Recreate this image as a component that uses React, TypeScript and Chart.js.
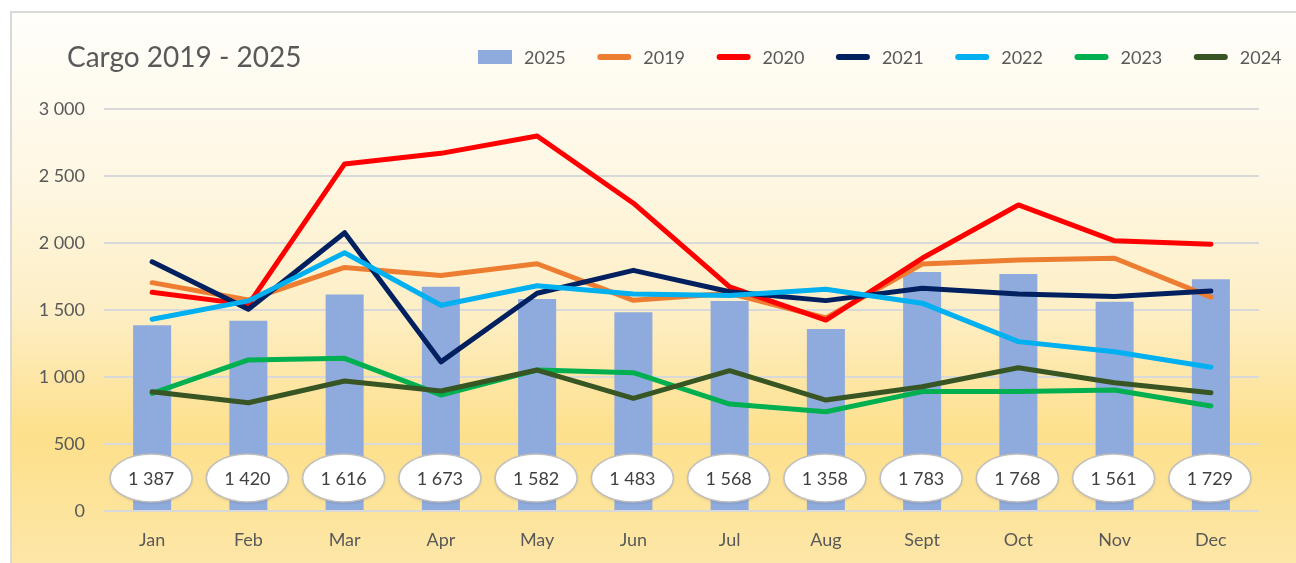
import React, { useEffect, useRef } from 'react';
import { Chart, registerables } from 'chart.js';

Chart.register(...registerables);

const months = ['Jan', 'Feb', 'Mar', 'Apr', 'May', 'Jun', 'Jul', 'Aug', 'Sept', 'Oct', 'Nov', 'Dec'];
const cargo2025 = [1387, 1420, 1616, 1673, 1582, 1483, 1568, 1358, 1783, 1768, 1561, 1729];
const cargo2019 = [1704, 1575, 1818, 1758, 1845, 1572, 1625, 1440, 1843, 1873, 1886, 1596];
const cargo2020 = [1632, 1540, 2590, 2669, 2799, 2297, 1672, 1425, 1886, 2284, 2016, 1990];
const cargo2021 = [1860, 1505, 2077, 1113, 1625, 1796, 1636, 1570, 1662, 1619, 1600, 1642];
const cargo2022 = [1431, 1568, 1927, 1535, 1681, 1619, 1609, 1655, 1551, 1264, 1189, 1073];
const cargo2023 = [878, 1127, 1139, 866, 1052, 1032, 798, 741, 891, 891, 903, 784];
const cargo2024 = [890, 808, 970, 896, 1052, 841, 1047, 828, 927, 1069, 957, 883];
const yTickValues = [0, 500, 1000, 1500, 2000, 2500, 3000];

const TITLE = 'Cargo 2019 - 2025';
const FONT = 'Lato, "Open Sans", "DejaVu Sans", sans-serif';
const TEXT = '#595959';

const series = [
  { label: '2019', data: cargo2019, color: '#ED7D31' },
  { label: '2020', data: cargo2020, color: '#FF0000' },
  { label: '2021', data: cargo2021, color: '#002060' },
  { label: '2022', data: cargo2022, color: '#00B0F0' },
  { label: '2023', data: cargo2023, color: '#00B050' },
  { label: '2024', data: cargo2024, color: '#375623' },
];
const BAR_COLOR = '#8FAADC';

const fmt = (v: number) => String(Math.round(v)).replace(/\B(?=(\d{3})+(?!\d))/g, ' ');

const backgroundPlugin = {
  id: 'bgFrame',
  beforeDraw(chart: any) {
    const { ctx, width, height } = chart;
    ctx.save();
    ctx.fillStyle = '#FFFFFF';
    ctx.fillRect(0, 0, width, height);
    const g = ctx.createLinearGradient(0, 12, 0, height);
    g.addColorStop(0, '#FFFEFB');
    g.addColorStop(0.3, '#FEF7E3');
    g.addColorStop(0.55, '#FDEEC4');
    g.addColorStop(0.77, '#FDE08B');
    g.addColorStop(1, '#FDE7A8');
    ctx.fillStyle = g;
    ctx.fillRect(11, 12, width - 11, height - 12);
    ctx.strokeStyle = '#D9D9D9';
    ctx.lineWidth = 2;
    ctx.beginPath();
    ctx.moveTo(11, height);
    ctx.lineTo(11, 12);
    ctx.lineTo(width, 12);
    ctx.stroke();
    ctx.restore();
  },
};

const headerPlugin = {
  id: 'header',
  afterDraw(chart: any) {
    const { ctx } = chart;
    ctx.save();
    ctx.fillStyle = TEXT;
    ctx.font = `28px ${FONT}`;
    ctx.textAlign = 'left';
    ctx.textBaseline = 'alphabetic';
    ctx.fillText(TITLE, 67, 67);

    const items = [{ label: '2025', color: BAR_COLOR, bar: true }, ...series.map((s) => ({ label: s.label, color: s.color, bar: false }))];
    ctx.font = `18px ${FONT}`;
    items.forEach((it, i) => {
      const x = 478 + i * 119.3;
      const cy = 57;
      if (it.bar) {
        ctx.fillStyle = it.color;
        ctx.fillRect(x, cy - 7, 34, 14);
      } else {
        ctx.strokeStyle = it.color;
        ctx.lineWidth = 6;
        ctx.lineCap = 'round';
        ctx.beginPath();
        ctx.moveTo(x + 3, cy);
        ctx.lineTo(x + 31, cy);
        ctx.stroke();
      }
      ctx.fillStyle = TEXT;
      ctx.textBaseline = 'middle';
      ctx.fillText(it.label, x + 46, cy + 1);
    });
    ctx.restore();
  },
};

const ellipseLabelPlugin = {
  id: 'ellipseLabels',
  afterDatasetsDraw(chart: any) {
    const { ctx, chartArea } = chart;
    const meta = chart.getDatasetMeta(0);
    ctx.save();
    meta.data.forEach((el: any, i: number) => {
      const cx = el.x - 1;
      const cy = chartArea.bottom - 33;
      ctx.save();
      ctx.shadowColor = 'rgba(0,0,0,0.18)';
      ctx.shadowBlur = 3;
      ctx.shadowOffsetY = 1;
      ctx.beginPath();
      ctx.ellipse(cx, cy, 41, 24, 0, 0, Math.PI * 2);
      ctx.fillStyle = '#FFFFFF';
      ctx.fill();
      ctx.restore();
      ctx.lineWidth = 1.5;
      ctx.strokeStyle = '#BFBFBF';
      ctx.beginPath();
      ctx.ellipse(cx, cy, 41, 24, 0, 0, Math.PI * 2);
      ctx.stroke();
      ctx.fillStyle = '#404040';
      ctx.font = `18px ${FONT}`;
      ctx.textAlign = 'center';
      ctx.textBaseline = 'middle';
      ctx.fillText(fmt(cargo2025[i]), cx, cy + 1);
    });
    ctx.restore();
  },
};

export default function App() {
  const canvasRef = useRef<HTMLCanvasElement | null>(null);

  useEffect(() => {
    document.body.style.margin = '0';
    const canvas = canvasRef.current;
    if (!canvas) return;
    const datasets: any[] = [
      {
        type: 'bar',
        label: '2025',
        data: cargo2025,
        backgroundColor: BAR_COLOR,
        borderWidth: 0,
        barPercentage: 0.395,
        categoryPercentage: 1,
        order: 100,
      },
      ...series.map((s, i) => ({
        type: 'line',
        label: s.label,
        data: s.data,
        borderColor: s.color,
        backgroundColor: s.color,
        borderWidth: 5,
        pointRadius: 0,
        tension: 0,
        fill: false,
        borderCapStyle: 'round',
        borderJoinStyle: 'round',
        order: series.length - i,
      })),
    ];
    const chart = new Chart(canvas, {
      type: 'bar',
      data: { labels: months, datasets },
      options: {
        animation: false,
        responsive: false,
        maintainAspectRatio: false,
        layout: { padding: { top: 109, right: 37, left: 0, bottom: 0 } },
        plugins: {
          legend: { display: false },
          title: { display: false },
          tooltip: { enabled: false },
        },
        scales: {
          x: {
            grid: { display: false, drawTicks: false },
            border: { display: false },
            ticks: { color: TEXT, font: { family: FONT, size: 18 }, padding: 18, maxRotation: 0 },
            afterFit: (s: any) => {
              s.height = 52;
            },
          },
          y: {
            min: 0,
            max: 3000,
            afterBuildTicks: (s: any) => {
              s.ticks = yTickValues.map((v) => ({ value: v }));
            },
            ticks: {
              color: TEXT,
              font: { family: FONT, size: 18 },
              padding: 19,
              callback: (v: any) => fmt(Number(v)),
            },
            grid: { color: '#D9D9D9', lineWidth: 2, drawTicks: false },
            border: { display: false },
            afterFit: (s: any) => {
              s.width = 104;
            },
          },
        },
      },
      plugins: [backgroundPlugin, headerPlugin, ellipseLabelPlugin],
    });
    return () => chart.destroy();
  }, []);

  return (
    <div style={{ width: 1296, height: 563 }}>
      <canvas ref={canvasRef} width={1296} height={563} style={{ display: 'block' }} />
    </div>
  );
}
